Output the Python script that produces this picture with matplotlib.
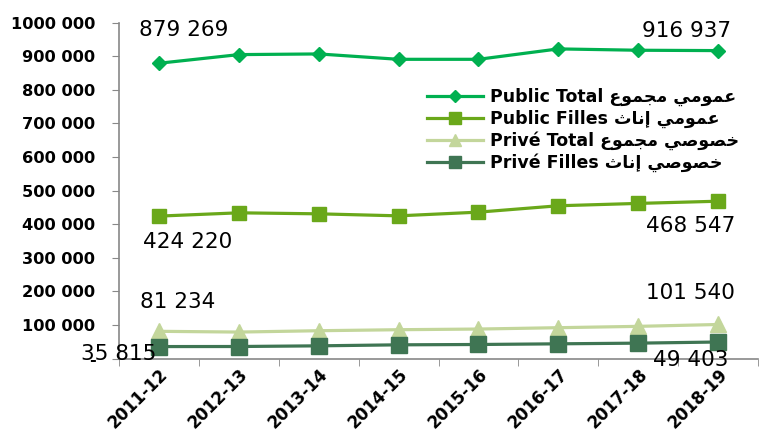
import numpy as np
import matplotlib.pyplot as plt

years = ['2011-12', '2012-13', '2013-14', '2014-15', '2015-16', '2016-17', '2017-18', '2018-19']
public_total = [879269, 905000, 907000, 891000, 891000, 922000, 918000, 916937]
public_filles = [424220, 434000, 431000, 425000, 436000, 455000, 462000, 468547]
prive_total = [81234, 79000, 83000, 86000, 88000, 92000, 96000, 101540]
prive_filles = [35815, 36000, 38000, 41000, 42000, 44000, 46000, 49403]

ytick_vals = [0, 100000, 200000, 300000, 400000, 500000, 600000, 700000, 800000, 900000, 1000000]
ytick_labels = ['-', '100 000', '200 000', '300 000', '400 000', '500 000',
                '600 000', '700 000', '800 000', '900 000', '1000 000']

# arabic words in presentation forms (logical order), reversed for display
umumi = '\uFECB\uFEE4\uFEEE\uFEE3\uFEF2'
majmu = '\uFEE3\uFEA0\uFEE4\uFEEE\uFEC9'
inath = '\uFE87\uFEE7\uFE8E\uFE99'
khususi = '\uFEA7\uFEBC\uFEEE\uFEBB\uFEF2'

labels = ['Public Total ' + (umumi + ' ' + majmu)[::-1],
          'Public Filles ' + (umumi + ' ' + inath)[::-1],
          'Privé Total ' + (khususi + ' ' + majmu)[::-1],
          'Privé Filles ' + (khususi + ' ' + inath)[::-1]]

plt.rcParams['font.family'] = ['DejaVu Sans']

fig = plt.figure(figsize=(7.59, 4.37), dpi=100)
ax = fig.add_axes([119/759, 1-358.6/437, (758-119)/759, (358.6-22.7)/437])

x = np.arange(len(years))
ax.plot(x, public_total, color='#00B050', lw=2.3, marker='D', ms=7, label=labels[0])
ax.plot(x, public_filles, color='#6AA81A', lw=2.3, marker='s', ms=10, label=labels[1])
ax.plot(x, prive_total, color='#C3D69B', lw=2.3, marker='^', ms=11, label=labels[2])
ax.plot(x, prive_filles, color='#3F7553', lw=2.3, marker='s', ms=11, label=labels[3])

ax.set_xlim(-0.5, 7.5)
ax.set_ylim(0, 1000000)
ax.set_yticks(ytick_vals)
ax.set_yticklabels(ytick_labels, fontsize=11.7, fontweight='bold')
ax.set_xticks(x)
ax.set_xticklabels(years, fontsize=12, fontweight='bold', rotation=45,
                   ha='right', rotation_mode='anchor')
ax.set_xticks(np.arange(-0.5, 8, 1), minor=True)
ax.tick_params(axis='x', which='major', length=0, pad=5)
ax.tick_params(axis='x', which='minor', length=5, color='#888888')
ax.tick_params(axis='y', length=5, color='#888888', pad=12)
for s in ['top', 'right']:
    ax.spines[s].set_visible(False)
for s in ['left', 'bottom']:
    ax.spines[s].set_color('#888888')
    ax.spines[s].set_linewidth(1.2)

fs = 15.5
def note(xi, yv, txt, dx, dy):
    ax.annotate(txt, (xi, yv), xytext=(dx, dy), textcoords='offset pixels',
                ha='center', va='center', fontsize=fs)

note(0, public_total[0], '879 269', 25, 33)
note(7, public_total[7], '916 937', -31, 20)
note(0, public_filles[0], '424 220', 29, -26)
note(7, public_filles[7], '468 547', -27, -25)
note(0, prive_total[0], '81 234', 19, 29)
note(7, prive_total[7], '101 540', -28, 31)
note(0, prive_filles[0], '35 815', -40, -7)
note(7, prive_filles[7], '49 403', -27, -18)

ax.legend(loc='upper left', bbox_to_anchor=(427/759, 1-88/437), bbox_transform=fig.transFigure,
          frameon=False, prop={'weight': 'bold', 'size': 12.5}, handlelength=3.2,
          handletextpad=0.4, labelspacing=0.2, borderpad=0, borderaxespad=0, markerscale=0.85)

fig.savefig('out.png', dpi=100)
